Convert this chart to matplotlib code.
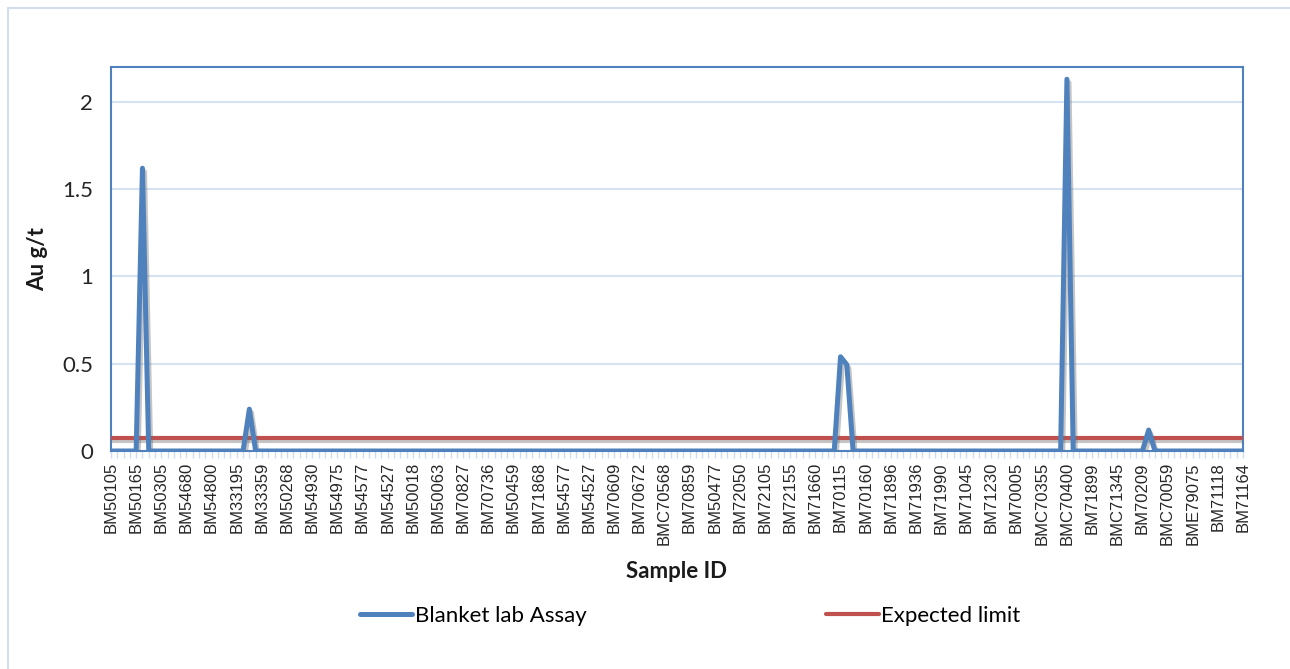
import matplotlib
matplotlib.use("Agg")
import matplotlib.pyplot as plt
import matplotlib.patheffects as pe
from matplotlib.patches import Rectangle
from matplotlib.lines import Line2D

# ---- data ----
tick_labels = [
    "BM50105", "BM50165", "BM50305", "BM54680", "BM54800", "BM33195", "BM33359",
    "BM50268", "BM54930", "BM54975", "BM54577", "BM54527", "BM50018", "BM50063",
    "BM70827", "BM70736", "BM50459", "BM71868", "BM54577", "BM54527", "BM70609",
    "BM70672", "BMC70568", "BM70859", "BM50477", "BM72050", "BM72105", "BM72155",
    "BM71660", "BM70115", "BM70160", "BM71896", "BM71936", "BM71990", "BM71045",
    "BM71230", "BM70005", "BMC70355", "BMC70400", "BM71899", "BMC71345", "BM70209",
    "BMC70059", "BME79075", "BM71118", "BM71164",
]
label_step = 4  # one label shown per 4 samples

blank_assay = [
    0, 0, 0, 0, 0, 1.62, 0, 0, 0, 0, 0, 0, 0, 0, 0, 0, 0, 0, 0, 0,
    0, 0, 0.24, 0, 0, 0, 0, 0, 0, 0, 0, 0, 0, 0, 0, 0, 0, 0, 0, 0,
    0, 0, 0, 0, 0, 0, 0, 0, 0, 0, 0, 0, 0, 0, 0, 0, 0, 0, 0, 0,
    0, 0, 0, 0, 0, 0, 0, 0, 0, 0, 0, 0, 0, 0, 0, 0, 0, 0, 0, 0,
    0, 0, 0, 0, 0, 0, 0, 0, 0, 0, 0, 0, 0, 0, 0, 0, 0, 0, 0, 0,
    0, 0, 0, 0, 0, 0, 0, 0, 0, 0, 0, 0, 0, 0, 0, 0, 0.54, 0.495, 0, 0,
    0, 0, 0, 0, 0, 0, 0, 0, 0, 0, 0, 0, 0, 0, 0, 0, 0, 0, 0, 0,
    0, 0, 0, 0, 0, 0, 0, 0, 0, 0, 0, 0, 2.13, 0, 0, 0, 0, 0, 0, 0,
    0, 0, 0, 0, 0, 0.12, 0, 0, 0, 0, 0, 0, 0, 0, 0, 0, 0, 0, 0, 0,
    0,
]
expected_limit_value = 0.075

y_ticks = [0, 0.5, 1, 1.5, 2]
y_tick_labels = ["0", "0.5", "1", "1.5", "2"]

BLUE = "#4F81BD"
RED = "#C0504D"
FONT = ["Lato", "DejaVu Sans"]

# ---- figure ----
W, H = 1290, 669
fig = plt.figure(figsize=(W / 100, H / 100), dpi=100)
fig.patch.set_facecolor("white")

# outer chart border
fig.patches.append(Rectangle((8 / W, -0.05), 1.1, 1 - 8 / H + 0.05,
                             transform=fig.transFigure, fill=False,
                             edgecolor="#D3DEEC", linewidth=1.5))

ax = fig.add_axes([111 / W, 1 - 451 / H, (1243 - 111) / W, (451 - 67) / H])

n = len(blank_assay)
x = list(range(n))
limit = [expected_limit_value] * n

shadow = [pe.SimpleLineShadow(offset=(1.5, -2.5), shadow_color="#6F6F6F", alpha=0.4), pe.Normal()]

ax.plot(x, limit, color=RED, lw=3.0, solid_capstyle="round",
        solid_joinstyle="round", zorder=3, path_effects=shadow)
ax.plot(x, blank_assay, color=BLUE, lw=3.6, solid_capstyle="butt",
        solid_joinstyle="round", zorder=4, path_effects=shadow)

ax.set_xlim(0, n - 1)
ax.set_ylim(0, 2.2)

ax.set_yticks(y_ticks)
ax.set_yticklabels(y_tick_labels, fontsize=16, family=FONT, color="#262626")
ax.tick_params(axis="y", length=0, pad=13)

ax.set_xticks(list(range(0, n, label_step)))
ax.set_xticklabels(tick_labels, rotation=90, fontsize=12,
                   family=["Liberation Sans", "DejaVu Sans"], color="#262626")
ax.set_xticks(x, minor=True)
ax.tick_params(axis="x", which="both", length=5, width=1.0, color="#D0DDF0", pad=3, direction="out")

ax.grid(axis="y", color="#D6E2F2", lw=1.5)
ax.set_axisbelow(True)
for s in ax.spines.values():
    s.set_color(BLUE)
    s.set_linewidth(1.5)

ax.set_ylabel("Au g/t", fontsize=16, fontweight="bold", family=FONT, labelpad=10, color="#1a1a1a")
ax.set_xlabel("Sample ID", fontsize=16, fontweight="bold", family=FONT, labelpad=11.5, color="#1a1a1a")

h_blue = Line2D([], [], color=BLUE, lw=3.6, solid_capstyle="round")
h_red = Line2D([], [], color=RED, lw=3.0, solid_capstyle="round")
fig.legend([h_blue, h_red], ["Blanket lab Assay", "Expected limit"],
           loc="center", bbox_to_anchor=(0.535, 1 - 616 / H), ncol=2,
           frameon=False, prop={"family": FONT, "size": 16},
           handlelength=2.35, handletextpad=0.12, columnspacing=10.8)

fig.savefig("out.png", dpi=100, facecolor="white")
